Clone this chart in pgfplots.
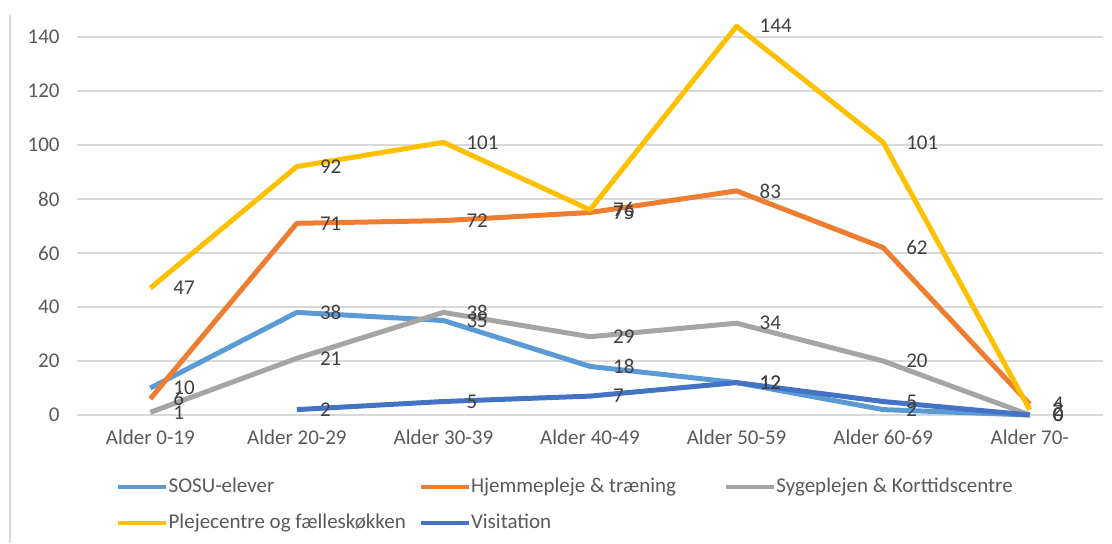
\documentclass[border=0pt]{standalone}
\usepackage{fontspec}
\setmainfont{Carlito}
\usepackage{pgfplots}
\pgfplotsset{compat=1.18}
\definecolor{sosu}{HTML}{5B9BD5}
\definecolor{hjem}{HTML}{ED7D31}
\definecolor{syge}{HTML}{A5A5A5}
\definecolor{pleje}{HTML}{FFC000}
\definecolor{visit}{HTML}{4472C4}
\definecolor{gridc}{HTML}{D9D9D9}
\definecolor{tickc}{HTML}{595959}
\definecolor{lblc}{HTML}{404040}
\newcommand{\fs}{\fontsize{10.5}{12}\selectfont}

\begin{document}
\begin{tikzpicture}
\useasboundingbox (-38.5pt,-64pt) rectangle (517.5pt,207.5pt);
\draw[gridc, line width=0.8pt] (-33.5pt,200pt) -- (-33.5pt,-64pt);
\begin{axis}[
  scale only axis, width=513pt, height=202.5pt,
  xmin=-0.5, xmax=6.5, ymin=0, ymax=150,
  clip=false,
  xtick={0,...,6},
  xticklabels={Alder 0-19,Alder 20-29,Alder 30-39,Alder 40-49,Alder 50-59,Alder 60-69,Alder 70-},
  ytick={0,20,...,140},
  ymajorgrids, grid style={line width=0.8pt, gridc},
  axis line style={draw=none}, major tick style={draw=none},
  tick label style={font=\fs, text=tickc},
  yticklabel style={xshift=-5.2pt},
  xticklabel style={yshift=-4pt},
  /pgf/number format/assume math mode=true,
  every axis plot/.append style={line width=2.5pt, line join=round, mark=none},
  nodes near coords,
  nodes near coords style={anchor=west, xshift=7pt, font=\fs, text=lblc},
  legend columns=3, legend cell align=left,
  legend style={at={(0.032,-0.135)}, anchor=north west, draw=none, fill=none,
    font=\fs, text=tickc, nodes={inner xsep=0pt}, row sep=5.3pt,
    /tikz/every odd column/.style={column sep=0pt},
    /tikz/every even column/.style={column sep=0pt}},
  legend image code/.code={\draw[line width=2.2pt] (0pt,0pt) -- (24pt,0pt);},
]
\addplot[sosu] coordinates {(0,10)(1,38)(2,35)(3,18)(4,12)(5,2)(6,0)};
\addlegendentry{\makebox[125pt][l]{SOSU-elever}}
\addplot[hjem] coordinates {(0,6)(1,71)(2,72)(3,75)(4,83)(5,62)(6,4)};
\addlegendentry{\makebox[126.5pt][l]{Hjemmepleje \& træning}}
\addplot[syge] coordinates {(0,1)(1,21)(2,38)(3,29)(4,34)(5,20)(6,0)};
\addlegendentry{Sygeplejen \& Korttidscentre}
\addplot[pleje] coordinates {(0,47)(1,92)(2,101)(3,76)(4,144)(5,101)(6,2)};
\addlegendentry{\makebox[125pt][l]{Plejecentre og fælleskøkken}}
\addplot[visit] coordinates {(1,2)(2,5)(3,7)(4,12)(5,5)(6,0)};
\addlegendentry{Visitation}
\end{axis}
\end{tikzpicture}
\end{document}
